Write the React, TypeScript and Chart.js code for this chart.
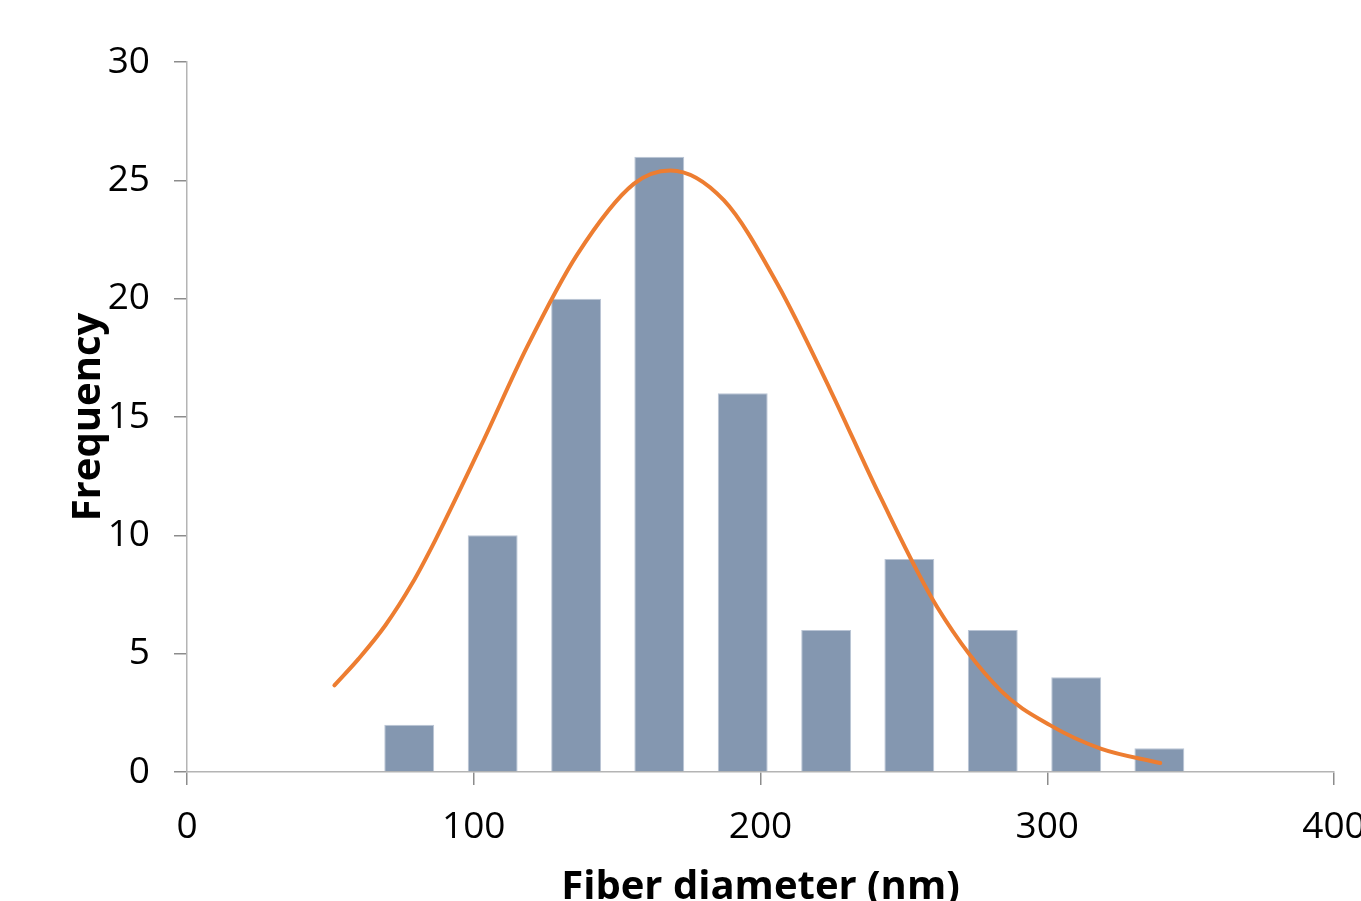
import React, { useEffect, useRef } from "react";
import { Chart, registerables } from "chart.js";

Chart.register(...registerables);

// Histogram bins (bin centre in nm) and their counts
const binCenters = [77.5, 106.6, 135.7, 164.7, 193.8, 222.9, 251.9, 281.0, 310.1, 339.1];
const frequencies = [2, 10, 20, 26, 16, 6, 9, 6, 4, 1];

// Fitted distribution curve
const curveX = [51.4, 59.9, 69.2, 78.5, 86.6, 102.9, 118.6, 136.0, 155.8, 168.6, 187.2, 205.8, 224.4, 241.8, 261.6, 283.7, 301.1, 318.6, 339.4];
const curveY = [3.66, 4.79, 6.2, 7.96, 9.8, 13.88, 17.96, 21.85, 24.85, 25.42, 24.16, 20.64, 16.13, 11.62, 6.97, 3.45, 1.97, 0.99, 0.38];

// Axis settings
const xMin = 0;
const xMax = 400;
const xStep = 100;
const yMin = 0;
const yMax = 30;
const yStep = 5;
const xTitle = "Fiber diameter (nm)";
const yTitle = "Frequency";

export default function App() {
  const ref = useRef<HTMLCanvasElement>(null);

  useEffect(() => {
    const canvas = ref.current;
    if (!canvas) return;
    Chart.defaults.font.family = "'Open Sans', sans-serif";
    const chart = new Chart(canvas, {
      type: "bar",
      data: {
        datasets: [
          {
            type: "line",
            label: "Fit",
            data: curveX.map((x, i) => ({ x, y: curveY[i] })),
            borderColor: "#ED7D31",
            borderWidth: 4,
            pointRadius: 0,
            fill: false,
            cubicInterpolationMode: "monotone",
            borderCapStyle: "round",
            borderJoinStyle: "round",
            order: 0,
          } as any,
          {
            type: "bar",
            label: "Frequency",
            data: binCenters.map((x, i) => ({ x, y: frequencies[i] })),
            backgroundColor: "#8497B0",
            borderColor: "#BAC5D5",
            borderWidth: 1,
            barPercentage: 1,
            categoryPercentage: 0.6,
            order: 1,
          } as any,
        ],
      },
      options: {
        responsive: false,
        animation: false,
        layout: { padding: { left: 0, top: 62, right: 86, bottom: 0 } },
        plugins: {
          legend: { display: false },
          tooltip: { enabled: false },
        },
        scales: {
          x: {
            type: "linear",
            min: xMin,
            max: xMax,
            offset: false,
            ticks: {
              stepSize: xStep,
              color: "#000",
              font: { size: 37 },
              padding: 20,
              maxRotation: 0,
            },
            grid: {
              display: true,
              offset: false,
              drawOnChartArea: false,
              drawTicks: true,
              tickLength: 13,
              color: "#8C8C8C",
              lineWidth: 1.5,
            },
            border: { display: true, color: "#B4B4B4", width: 1.5 },
            title: {
              display: true,
              text: xTitle,
              color: "#000",
              font: { size: 40, weight: "bold" },
              padding: { top: 0, bottom: 38 },
            },
            afterFit: (s: any) => {
              s.height = 178;
            },
          },
          y: {
            type: "linear",
            min: yMin,
            max: yMax,
            ticks: {
              stepSize: yStep,
              color: "#000",
              font: { size: 37 },
              padding: 24,
            },
            grid: {
              display: true,
              offset: false,
              drawOnChartArea: false,
              drawTicks: true,
              tickLength: 13,
              color: "#8C8C8C",
              lineWidth: 1.5,
            },
            border: { display: true, color: "#B4B4B4", width: 1.5 },
            title: {
              display: true,
              text: yTitle,
              color: "#000",
              font: { size: 40, weight: "bold" },
              padding: { top: 65, bottom: 0 },
            },
            afterFit: (s: any) => {
              s.width = 187;
            },
          },
        },
      } as any,
    });
    return () => chart.destroy();
  }, []);

  return (
    <div
      style={{
        position: "fixed",
        left: 0,
        top: 0,
        width: 1361,
        height: 901,
        overflow: "hidden",
        background: "#fff",
      }}
    >
      <canvas
        ref={ref}
        width={1420}
        height={950}
        style={{ display: "block", width: 1420, height: 950 }}
      />
    </div>
  );
}
